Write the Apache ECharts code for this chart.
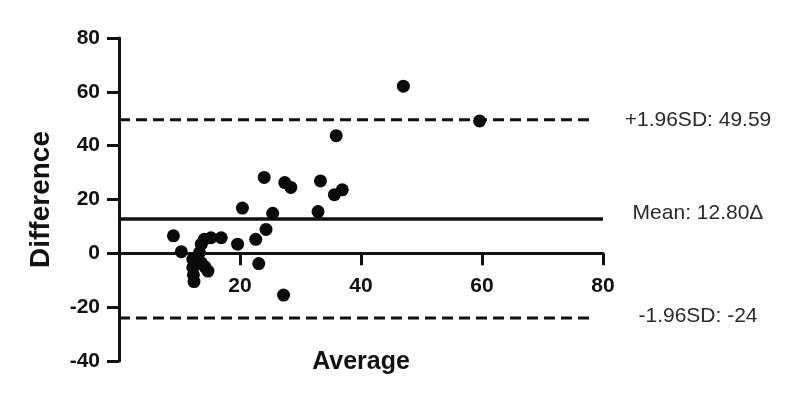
<!DOCTYPE html>
<html>
<head>
<meta charset="utf-8">
<script src="https://cdn.jsdelivr.net/npm/echarts@6/dist/echarts.min.js"></script>
<style>
  html, body { margin: 0; padding: 0; background: #fff; }
  #chart { width: 800px; height: 401px; }
</style>
</head>
<body>
<div id="chart"></div>
<script>
// Data (Bland-Altman plot)
const averageValues = [9.0, 10.3, 12.2, 12.2, 12.3, 12.4, 13.3, 13.6, 13.6, 14.1, 14.2, 14.7, 15.2, 16.9, 19.6, 20.4, 22.6, 23.1, 24.3, 24.0, 25.4, 27.2, 27.4, 28.4, 32.9, 33.3, 35.6, 36.9, 35.9, 47.0, 59.6];
const differenceValues = [6.5, 0.6, -2.2, -5.3, -8.0, -10.5, 0.3, 3.4, -3.5, 5.2, -5.0, -6.6, 5.8, 5.8, 3.4, 16.8, 5.2, -3.8, 8.9, 28.2, 14.9, -15.5, 26.3, 24.5, 15.5, 26.9, 21.8, 23.6, 43.7, 62.1, 49.2];

const meanDiff = 12.80;
const upperLimit = 49.59;
const lowerLimit = -24;
const limitLabels = ['+1.96SD: 49.59', 'Mean: 12.80\u0394', '-1.96SD: -24'];
const limitValues = [upperLimit, meanDiff, lowerLimit];

const xTicks = [0, 20, 40, 60, 80];
const yTicks = [-40, -20, 0, 20, 40, 60, 80];
const dashedEnd = 78.5;   // x where the dashed limit lines stop
const meanEnd = 80;       // x where the mean line stops

const points = averageValues.map((a, i) => [a, differenceValues[i]]);

const chart = echarts.init(document.getElementById('chart'), null, { renderer: 'canvas' });

const axisFont = 'Liberation Sans, Arial, sans-serif';

chart.setOption({
  animation: false,
  backgroundColor: '#ffffff',
  grid: { left: 119, right: 197, top: 38, bottom: 40, containLabel: false, outerBoundsMode: 'none' },
  xAxis: {
    type: 'value',
    min: xTicks[0], max: xTicks[xTicks.length - 1], interval: 20,
    axisLine: { onZero: true, lineStyle: { color: '#111', width: 3 } },
    axisTick: { show: true, length: 12, lineStyle: { color: '#111', width: 3 } },
    axisLabel: {
      margin: 22, fontFamily: axisFont, fontWeight: 'bold', fontSize: 21, color: '#111',
      formatter: v => (v === 0 ? '' : String(v))
    },
    splitLine: { show: false }
  },
  yAxis: {
    type: 'value',
    min: yTicks[0], max: yTicks[yTicks.length - 1], interval: 20,
    name: 'Difference',
    nameLocation: 'middle',
    nameGap: 64,
    nameRotate: 90,
    nameTextStyle: { fontFamily: axisFont, fontWeight: 'bold', fontSize: 28, color: '#111' },
    axisLine: { show: true, onZero: false, lineStyle: { color: '#111', width: 3 } },
    axisTick: { show: true, length: 12, lineStyle: { color: '#111', width: 3 } },
    axisLabel: { margin: 19, fontFamily: axisFont, fontWeight: 'bold', fontSize: 21, color: '#111' },
    splitLine: { show: false }
  },
  series: [
    {
      type: 'line', data: [[0, upperLimit], [dashedEnd, upperLimit]],
      symbol: 'none', silent: true,
      lineStyle: { color: '#111', width: 3, type: [11, 6] }, z: 2
    },
    {
      type: 'line', data: [[0, lowerLimit], [dashedEnd, lowerLimit]],
      symbol: 'none', silent: true,
      lineStyle: { color: '#111', width: 3, type: [11, 6] }, z: 2
    },
    {
      type: 'line', data: [[0, meanDiff], [meanEnd, meanDiff]],
      symbol: 'none', silent: true,
      lineStyle: { color: '#111', width: 3.5, type: 'solid' }, z: 2
    },
    {
      type: 'scatter', data: points,
      symbol: 'circle', symbolSize: 13,
      itemStyle: { color: '#0a0a0a', opacity: 1 }, z: 3
    }
  ]
});

// Move the x axis (line, ticks, labels) to the y = 0 level, using the chart's own scale
const zeroY = chart.convertToPixel({ gridIndex: 0 }, [0, 0])[1];
const bottomY = chart.convertToPixel({ gridIndex: 0 }, [0, yTicks[0]])[1];
const shift = bottomY - zeroY;

const labelOffsets = [0, -6, -2];
const labelCenterX = 698;
const plotCenterX = chart.convertToPixel({ gridIndex: 0 }, [(xTicks[0] + xTicks[xTicks.length - 1]) / 2, 0])[0];

chart.setOption({
  xAxis: { axisLine: { onZero: false }, offset: -shift },
  graphic: limitValues.map((v, i) => {
    const py = chart.convertToPixel({ gridIndex: 0 }, [0, v])[1];
    return {
      type: 'text',
      x: labelCenterX,
      y: py + labelOffsets[i],
      style: {
        text: limitLabels[i],
        fontFamily: axisFont,
        fontSize: 21,
        fill: '#2a2a2a',
        align: 'center',
        verticalAlign: 'middle'
      }
    };
  }).concat([{
    type: 'text',
    x: plotCenterX,
    y: bottomY + 1,
    style: {
      text: 'Average',
      fontFamily: axisFont,
      fontWeight: 'bold',
      fontSize: 25,
      fill: '#111',
      align: 'center',
      verticalAlign: 'middle'
    }
  }])
});
</script>
</body>
</html>
